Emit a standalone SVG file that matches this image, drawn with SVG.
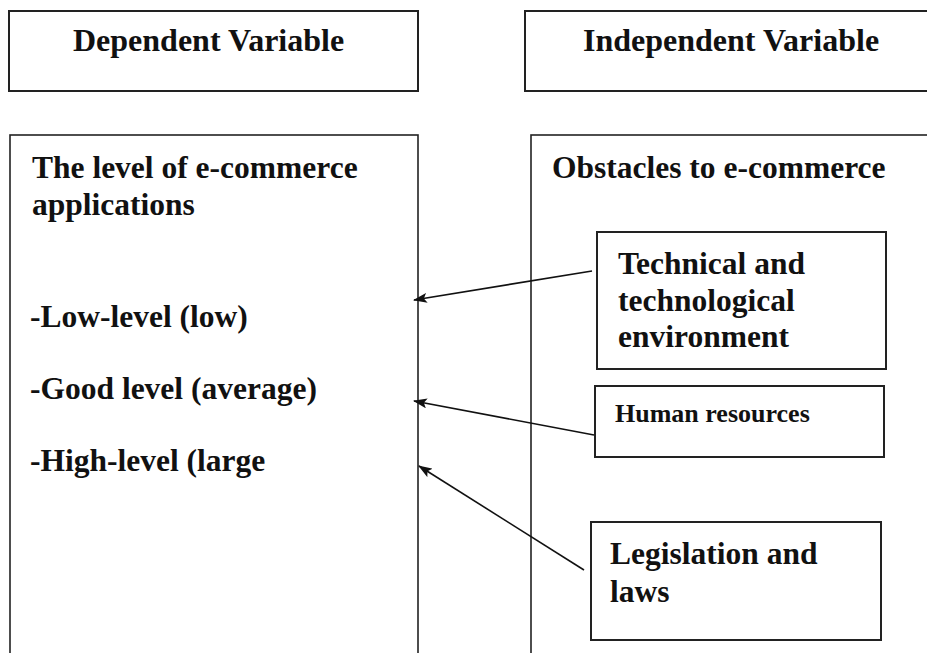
<svg xmlns="http://www.w3.org/2000/svg" width="927" height="653" viewBox="0 0 927 653">
  <style>
    .box { fill: #ffffff; stroke: #222222; stroke-width: 2; }
    .frame { fill: #ffffff; stroke: #222222; stroke-width: 1.6; }
    .t { font-family: "Liberation Serif", "Times New Roman", serif; font-weight: bold; fill: #111111; }
    .h { font-size: 32px; }
    .b { font-size: 31.5px; }
    .s { font-size: 26px; }
    .link { stroke: #111111; stroke-width: 1.6; fill: none; marker-end: url(#arrow); }
  </style>
  <defs>
    <marker id="arrow" markerWidth="14" markerHeight="10" refX="13" refY="5" orient="auto" markerUnits="userSpaceOnUse">
      <path d="M0,0 L14,5 L0,10 L3,5 Z" fill="#111111"/>
    </marker>
  </defs>
  <rect width="927" height="653" fill="#ffffff"/>

  <!-- Column headings -->
  <g id="dependent-heading">
    <rect class="box" x="9" y="11" width="409" height="80"/>
    <text class="t h" x="73" y="51">Dependent Variable</text>
  </g>
  <g id="independent-heading">
    <rect class="box" x="525" y="11" width="410" height="80"/>
    <text class="t h" x="583" y="51">Independent Variable</text>
  </g>

  <!-- Dependent variable panel -->
  <g id="dependent-panel">
    <rect class="frame" x="10" y="135" width="408" height="530"/>
    <text class="t b" x="32" y="178">The level of e-commerce</text>
    <text class="t b" x="32" y="215">applications</text>
    <text class="t b" x="30" y="327">-Low-level (low)</text>
    <text class="t b" x="30" y="399">-Good level (average)</text>
    <text class="t b" x="30" y="471">-High-level (large</text>
  </g>

  <!-- Independent variable panel -->
  <g id="independent-panel">
    <rect class="frame" x="531" y="135" width="410" height="530"/>
    <text class="t b" x="552" y="178">Obstacles to e-commerce</text>
  </g>

  <g id="technical">
    <rect class="box" x="597" y="232" width="289" height="137"/>
    <text class="t b" x="618" y="274">Technical and</text>
    <text class="t b" x="618" y="311">technological</text>
    <text class="t b" x="618" y="347">environment</text>
  </g>

  <g id="human">
    <rect class="box" x="595" y="386" width="289" height="71"/>
    <text class="t s" x="615" y="422">Human resources</text>
  </g>

  <g id="legislation">
    <rect class="box" x="591" y="522" width="290" height="118"/>
    <text class="t b" x="610" y="564">Legislation and</text>
    <text class="t b" x="610" y="602">laws</text>
  </g>

  <!-- Connectors -->
  <g id="connectors">
    <line class="link" x1="592" y1="271" x2="414" y2="300"/>
    <line class="link" x1="594" y1="435" x2="414" y2="401"/>
    <line class="link" x1="584" y1="570" x2="419" y2="466"/>
  </g>
</svg>
